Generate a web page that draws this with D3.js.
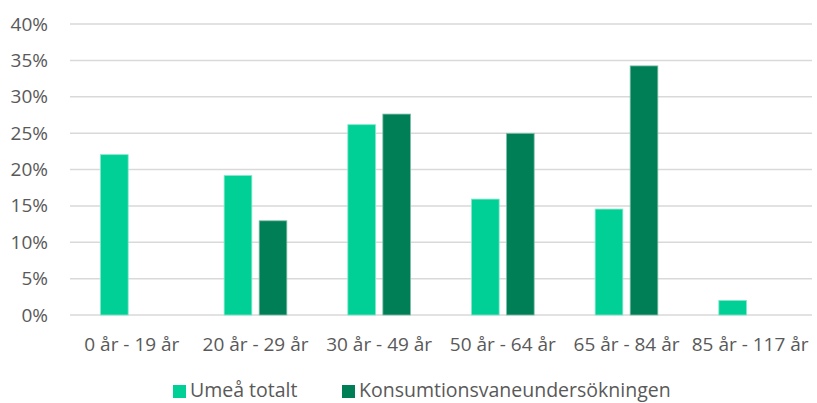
<!DOCTYPE html>
<html>
<head>
<meta charset="utf-8">
<script src="https://cdn.jsdelivr.net/npm/d3@7"></script>
<style>
  body { margin: 0; background: #fff; }
  text { font-family: "Open Sans", "Noto Sans", sans-serif; fill: #595959; }
</style>
</head>
<body>
<div id="container"></div>
<script>
const categories = ["0 år - 19 år", "20 år - 29 år", "30 år - 49 år", "50 år - 64 år", "65 år - 84 år", "85 år - 117 år"];
const seriesNames = ["Umeå totalt", "Konsumtionsvaneundersökningen"];
const umeaValues = [0.2204, 0.1916, 0.2616, 0.1593, 0.1456, 0.0199];
const konsumValues = [0, 0.1295, 0.2762, 0.2497, 0.3424, 0];
const yTicks = [0, 0.05, 0.10, 0.15, 0.20, 0.25, 0.30, 0.35, 0.40];
const colors = ["#00D096", "#007F56"];

const W = 817, H = 403;
const margin = { top: 24, right: 5, bottom: 88, left: 70 };
const width = W - margin.left - margin.right;
const height = H - margin.top - margin.bottom;

const svg = d3.select("#container").append("svg")
  .attr("width", W)
  .attr("height", H);

const g = svg.append("g")
  .attr("transform", `translate(${margin.left},${margin.top})`);

const x = d3.scaleBand()
  .domain(categories)
  .range([0, width])
  .paddingInner(0)
  .paddingOuter(0);

const x1 = d3.scaleBand()
  .domain(seriesNames)
  .range([30.5, x.bandwidth() - 30.5])
  .paddingInner(0.21);

const y = d3.scaleLinear()
  .domain([0, 0.4])
  .range([height, 0]);

// gridlines
g.append("g")
  .selectAll("line")
  .data(yTicks)
  .enter()
  .append("line")
  .attr("x1", 0)
  .attr("x2", width)
  .attr("y1", d => y(d))
  .attr("y2", d => y(d))
  .attr("stroke", "#D9D9D9")
  .attr("stroke-width", 1.5);

// y axis labels
const yAxis = g.append("g")
  .call(d3.axisLeft(y).tickValues(yTicks).tickFormat(d3.format(".0%")).tickSize(0).tickPadding(22));
yAxis.select(".domain").remove();
yAxis.selectAll("text")
  .style("font-size", "19px")
  .attr("fill", "#595959");

// x axis labels
const xAxis = g.append("g")
  .attr("transform", `translate(0,${height})`)
  .call(d3.axisBottom(x).tickSize(0));
xAxis.select(".domain").remove();
xAxis.selectAll("text")
  .attr("y", 36)
  .attr("dy", 0)
  .style("font-size", "19px")
  .attr("fill", "#595959");

// bars
const rows = categories.map((c, i) => ({ cat: c, values: [umeaValues[i], konsumValues[i]] }));

const groups = g.selectAll(".group")
  .data(rows)
  .enter()
  .append("g")
  .attr("class", "group")
  .attr("transform", d => `translate(${x(d.cat)},0)`);

groups.selectAll("rect")
  .data(d => d.values.map((v, j) => ({ series: seriesNames[j], value: v, j })))
  .enter()
  .filter(d => d.value > 0)
  .append("rect")
  .attr("x", d => x1(d.series))
  .attr("y", d => y(d.value))
  .attr("width", x1.bandwidth())
  .attr("height", d => height - y(d.value))
  .attr("fill", d => colors[d.j])
  .attr("stroke", d => d.j === 0 ? "#7FE8C9" : "#7FBFAA")
  .attr("stroke-width", 0.8);

// legend
const legendItems = [
  { name: seriesNames[0], color: colors[0], x: 173 },
  { name: seriesNames[1], color: colors[1], x: 342 }
];
const legend = svg.append("g");
legendItems.forEach(item => {
  legend.append("rect")
    .attr("x", item.x)
    .attr("y", 385)
    .attr("width", 13)
    .attr("height", 13)
    .attr("fill", item.color);
  legend.append("text")
    .attr("x", item.x + 17)
    .attr("y", 397)
    .style("font-size", "19.5px")
    .text(item.name);
});
</script>
</body>
</html>
